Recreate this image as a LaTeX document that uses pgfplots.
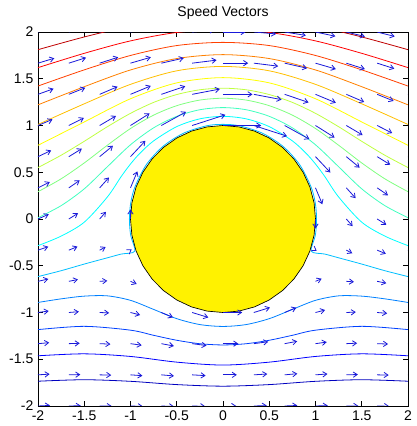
\documentclass[border=0pt]{standalone}
\usepackage{fontspec}
\setmainfont{Liberation Sans}
\usepackage{pgfplots}
\usepackage{pgfplotstable}
\pgfplotsset{compat=1.18}
\usetikzlibrary{arrows.meta,calc}

% jet colours, one per contour level
\definecolor{j1}{rgb}{0,0,0.75}
\definecolor{j2}{rgb}{0,0,1}
\definecolor{j3}{rgb}{0,0.25,1}
\definecolor{j4}{rgb}{0,0.5,1}
\definecolor{j5}{rgb}{0,0.75,1}
\definecolor{j6}{rgb}{0,1,1}
\definecolor{j7}{rgb}{0.25,1,0.75}
\definecolor{j8}{rgb}{0.5,1,0.5}
\definecolor{j9}{rgb}{0.75,1,0.25}
\definecolor{j10}{rgb}{1,1,0}
\definecolor{j11}{rgb}{1,0.75,0}
\definecolor{j12}{rgb}{1,0.5,0}
\definecolor{j13}{rgb}{1,0.25,0}
\definecolor{j14}{rgb}{1,0,0}
\definecolor{j15}{rgb}{0.75,0,0}
\definecolor{arrowblue}{rgb}{0.1,0.1,0.85}

\pgfplotstableread{
x y u v
-2 2 1.165 0.29
-2 1.6667 1.1357 0.3399
-2 1.3333 1.0857 0.3883
-2 1 1.012 0.424
-2 0.6667 0.919 0.432
-2 0.3333 0.8234 0.4
-2 0 0.75 0.33
-2 -0.3333 0.7164 0.2422
-2 -0.6667 0.721 0.162
-2 -1 0.748 0.104
-2 -1.3333 0.7811 0.0687
-2 -1.6667 0.8111 0.0497
-2 -2 0.835 0.04
-1.6667 2 1.2214 0.3074
-1.6667 1.6667 1.198 0.378
-1.6667 1.3333 1.145 0.4557
-1.6667 1 1.0501 0.5248
-1.6667 0.6667 0.9119 0.5554
-1.6667 0.3333 0.7567 0.5139
-1.6667 0 0.64 0.396
-1.6667 -0.3333 0.6043 0.2477
-1.6667 -0.6667 0.6387 0.1274
-1.6667 -1 0.7007 0.0576
-1.6667 -1.3333 0.7586 0.0273
-1.6667 -1.6667 0.802 0.018
-1.6667 -2 0.8318 0.0172
-1.3333 2 1.2951 0.3121
-1.3333 1.6667 1.2897 0.4074
-1.3333 1.3333 1.2475 0.5288
-1.3333 1 1.1368 0.6624
-1.3333 0.6667 0.928 0.756
-1.3333 0.3333 0.6494 0.715
-1.3333 0 0.4375 0.495
-1.3333 -0.3333 0.4164 0.2168
-1.3333 -0.6667 0.532 0.036
-1.3333 -1 0.6616 -0.0288
-1.3333 -1.3333 0.7525 -0.0338
-1.3333 -1.6667 0.8067 -0.021
-1.3333 -2 0.8381 -0.0075
-1 2 1.384 0.292
-1 1.6667 1.4158 0.4083
-1 1.3333 1.4176 0.5832
-1 1 1.33 0.83
-1 0.6667 1.0383 1.096
-1 0.3333 0.478 1.134
-1 0 0 0.66
-1 -0.3333 0.082 0.054
-1 -0.6667 0.4291 -0.1822
-1 -1 0.67 -0.17
-1 -1.3333 0.784 -0.108
-1 -1.6667 0.8334 -0.0589
-1 -2 0.856 -0.028
-0.6667 2 1.477 0.234
-0.6667 1.6667 1.5661 0.3506
-0.6667 1.3333 1.666 0.558
-0.6667 1 1.7232 0.9437
-0.6667 -1 0.8094 -0.3345
-0.6667 -1.3333 0.874 -0.162
-0.6667 -1.6667 0.8833 -0.0774
-0.6667 -2 0.883 -0.036
-0.3333 2 1.5512 0.1324
-0.3333 1.6667 1.7003 0.2093
-0.3333 1.3333 1.933 0.3656
-0.3333 1 2.314 0.738
-0.3333 -1 1.126 -0.342
-0.3333 -1.3333 1.0012 -0.1326
-0.3333 -1.6667 0.9387 -0.0569
-0.3333 -2 0.909 -0.0254
0 2 1.58 0
0 1.6667 1.756 0
0 1.3333 2.0575 0
0 1 2.66 0
0 -1 1.34 0
0 -1.3333 1.0675 0
0 -1.6667 0.964 0
0 -2 0.92 0
0.3333 2 1.5512 -0.1324
0.3333 1.6667 1.7003 -0.2093
0.3333 1.3333 1.933 -0.3656
0.3333 1 2.314 -0.738
0.3333 -1 1.126 0.342
0.3333 -1.3333 1.0012 0.1326
0.3333 -1.6667 0.9387 0.0569
0.3333 -2 0.909 0.0254
0.6667 2 1.477 -0.234
0.6667 1.6667 1.5661 -0.3506
0.6667 1.3333 1.666 -0.558
0.6667 1 1.7232 -0.9437
0.6667 -1 0.8094 0.3345
0.6667 -1.3333 0.874 0.162
0.6667 -1.6667 0.8833 0.0774
0.6667 -2 0.883 0.036
1 2 1.384 -0.292
1 1.6667 1.4158 -0.4083
1 1.3333 1.4176 -0.5832
1 1 1.33 -0.83
1 0.6667 1.0383 -1.096
1 0.3333 0.478 -1.134
1 0 0 -0.66
1 -0.3333 0.082 -0.054
1 -0.6667 0.4291 0.1822
1 -1 0.67 0.17
1 -1.3333 0.784 0.108
1 -1.6667 0.8334 0.0589
1 -2 0.856 0.028
1.3333 2 1.2951 -0.3121
1.3333 1.6667 1.2897 -0.4074
1.3333 1.3333 1.2475 -0.5288
1.3333 1 1.1368 -0.6624
1.3333 0.6667 0.928 -0.756
1.3333 0.3333 0.6494 -0.715
1.3333 0 0.4375 -0.495
1.3333 -0.3333 0.4164 -0.2168
1.3333 -0.6667 0.532 -0.036
1.3333 -1 0.6616 0.0288
1.3333 -1.3333 0.7525 0.0338
1.3333 -1.6667 0.8067 0.021
1.3333 -2 0.8381 0.0075
1.6667 2 1.2214 -0.3074
1.6667 1.6667 1.198 -0.378
1.6667 1.3333 1.145 -0.4557
1.6667 1 1.0501 -0.5248
1.6667 0.6667 0.9119 -0.5554
1.6667 0.3333 0.7567 -0.5139
1.6667 0 0.64 -0.396
1.6667 -0.3333 0.6043 -0.2477
1.6667 -0.6667 0.6387 -0.1274
1.6667 -1 0.7007 -0.0576
1.6667 -1.3333 0.7586 -0.0273
1.6667 -1.6667 0.802 -0.018
1.6667 -2 0.8318 -0.0172
2 2 1.165 -0.29
2 1.6667 1.1357 -0.3399
2 1.3333 1.0857 -0.3883
2 1 1.012 -0.424
2 0.6667 0.919 -0.432
2 0.3333 0.8234 -0.4
2 0 0.75 -0.33
2 -0.3333 0.7164 -0.2422
2 -0.6667 0.721 -0.162
2 -1 0.748 -0.104
2 -1.3333 0.7811 -0.0687
2 -1.6667 0.8111 -0.0497
2 -2 0.835 -0.04
}\speeds

\begin{document}
\begin{tikzpicture}
\begin{axis}[name=a, scale only axis, width=277.5pt, height=280.5pt,
  xmin=-2, xmax=2, ymin=-2, ymax=2,
  xtick={-2,-1.5,-1,-0.5,0,0.5,1,1.5,2},
  ytick={-2,-1.5,-1,-0.5,0,0.5,1,1.5,2},
  /pgf/number format/assume math mode=true,
  tick label style={font=\fontsize{10.5}{12}\selectfont},
  title={Speed Vectors}, title style={font=\fontsize{10.5}{12}\selectfont},
  major tick length=3.5pt, tick style={black, line width=0.5pt},
  axis line style={line width=0.6pt},
  every axis plot/.append style={line width=0.6pt}]
% streamlines
\addplot[j1, smooth] coordinates {(-2,-1.735) (-1.5,-1.719) (-1,-1.736)
  (-0.5,-1.771) (0,-1.788) (0.5,-1.771) (1,-1.736) (1.5,-1.719) (2,-1.735)};
\addplot[j2, smooth] coordinates {(-2,-1.463) (-1.5,-1.442) (-1,-1.470)
  (-0.5,-1.531) (0,-1.562) (0.5,-1.531) (1,-1.470) (1.5,-1.442) (2,-1.463)};
\addplot[j3, smooth] coordinates {(-2,-1.183) (-1.5,-1.148) (-1,-1.189)
  (-0.75,-1.244) (-0.5,-1.297) (-0.25,-1.334) (0,-1.347) (0.25,-1.334)
  (0.5,-1.297) (0.75,-1.244) (1,-1.189) (1.5,-1.148) (2,-1.183)};
\addplot[j4, smooth] coordinates {(-2,-0.8925) (-1.75,-0.854) (-1.5,-0.825)
  (-1.25,-0.822) (-1,-0.870) (-0.75,-0.967) (-0.5,-1.066) (-0.25,-1.129)
  (0,-1.149) (0.25,-1.129) (0.5,-1.066) (0.75,-0.967) (1,-0.870)
  (1.25,-0.822) (1.5,-0.825) (1.75,-0.854) (2,-0.8925)};
\addplot[j5, smooth] coordinates {(-2,-0.616) (-1.75,-0.553) (-1.5,-0.482)
  (-1.25,-0.415) (-1.1,-0.375) (-0.955,-0.345) (-0.998,-0.176) (-1.012,0)
  (-0.997,0.176) (-0.951,0.346) (-0.829,0.581) (-0.651,0.775)
  (-0.428,0.917) (-0.176,0.997) (0,1.012) (0.176,0.997) (0.428,0.917)
  (0.651,0.775) (0.829,0.581) (0.951,0.346) (0.997,0.176) (1.012,0)
  (0.998,-0.176) (0.955,-0.345) (1.1,-0.375) (1.25,-0.415) (1.5,-0.482)
  (1.75,-0.553) (2,-0.616)};
\addplot[j6, smooth] coordinates {(-2,-0.285) (-1.75,-0.183) (-1.5,-0.034)
  (-1.25,0.2355) (-1.1,0.455) (-1,0.588) (-0.9,0.701) (-0.75,0.8355)
  (-0.5,0.988) (-0.25,1.0713) (0,1.098) (0.25,1.0713) (0.5,0.988)
  (0.75,0.8355) (0.9,0.701) (1,0.588) (1.1,0.455) (1.25,0.2355)
  (1.5,-0.034) (1.75,-0.183) (2,-0.285)};
\addplot[j7, smooth] coordinates {(-2,0.014) (-1.75,0.1428) (-1.5,0.3225)
  (-1.25,0.559) (-1,0.7937) (-0.75,0.975) (-0.5,1.098) (-0.25,1.1687)
  (0,1.1915) (0.25,1.1687) (0.5,1.098) (0.75,0.975) (1,0.7937)
  (1.25,0.559) (1.5,0.3225) (1.75,0.1428) (2,0.014)};
\addplot[j8, smooth] coordinates {(-2,0.292) (-1.75,0.4296) (-1.5,0.5995)
  (-1.25,0.789) (-1,0.9676) (-0.75,1.111) (-0.5,1.212) (-0.25,1.272)
  (0,1.2915) (0.25,1.272) (0.5,1.212) (0.75,1.111) (1,0.9676)
  (1.25,0.789) (1.5,0.5995) (1.75,0.4296) (2,0.292)};
\addplot[j9, smooth] coordinates {(-2,0.550) (-1.75,0.682) (-1.5,0.831)
  (-1.25,0.987) (-1,1.13) (-0.75,1.247) (-0.5,1.331) (-0.25,1.382)
  (0,1.399) (0.25,1.382) (0.5,1.331) (0.75,1.247) (1,1.13) (1.25,0.987)
  (1.5,0.831) (1.75,0.682) (2,0.550)};
\addplot[j10, smooth] coordinates {(-2,0.788) (-1.5,1.038) (-1,1.286)
  (-0.5,1.456) (0,1.512) (0.5,1.456) (1,1.286) (1.5,1.038) (2,0.788)};
\addplot[j11, smooth] coordinates {(-2,1.011) (-1.5,1.232) (-1,1.440)
  (-0.5,1.585) (0,1.632) (0.5,1.585) (1,1.440) (1.5,1.232) (2,1.011)};
\addplot[j12, smooth] coordinates {(-2,1.221) (-1.5,1.415) (-1,1.594)
  (-0.5,1.716) (0,1.758) (0.5,1.716) (1,1.594) (1.5,1.415) (2,1.221)};
\addplot[j13, smooth] coordinates {(-2,1.422) (-1.5,1.595) (-1,1.749)
  (-0.5,1.855) (0,1.889) (0.5,1.855) (1,1.749) (1.5,1.595) (2,1.422)};
\addplot[j14, smooth] coordinates {(-2,1.619) (-1.5,1.772) (-1,1.905)
  (-0.5,1.995) (0,2.026) (0.5,1.995) (1,1.905) (1.5,1.772) (2,1.619)};
\addplot[j15, smooth] coordinates {(-2,1.811) (-1.5,1.947) (-1,2.063)
  (-0.5,2.14) (0,2.168) (0.5,2.14) (1,2.063) (1.5,1.947) (2,1.811)};
% cylinder
\addplot[draw=black, fill=yellow, line width=0.5pt] coordinates {(1,0)
  (0.9848,0.1736) (0.9397,0.3420) (0.8660,0.5) (0.7660,0.6428)
  (0.6428,0.7660) (0.5,0.8660) (0.3420,0.9397) (0.1736,0.9848) (0,1)
  (-0.1736,0.9848) (-0.3420,0.9397) (-0.5,0.8660) (-0.6428,0.7660)
  (-0.7660,0.6428) (-0.8660,0.5) (-0.9397,0.3420) (-0.9848,0.1736) (-1,0)
  (-0.9848,-0.1736) (-0.9397,-0.3420) (-0.8660,-0.5) (-0.7660,-0.6428)
  (-0.6428,-0.7660) (-0.5,-0.8660) (-0.3420,-0.9397) (-0.1736,-0.9848)
  (0,-1) (0.1736,-0.9848) (0.3420,-0.9397) (0.5,-0.8660) (0.6428,-0.7660)
  (0.7660,-0.6428) (0.8660,-0.5) (0.9397,-0.3420) (0.9848,-0.1736)} -- cycle;
% speed vectors
\addplot[arrowblue, line width=0.6pt,
  quiver={u=\thisrow{u}, v=\thisrow{v}, scale arrows=0.155},
  -{Straight Barb[length=3pt,width=4pt]}] table[x=x, y=y] {\speeds};
\end{axis}
\pgfresetboundingbox
\path ($(a.south west)+(-28.5pt,-15pt)$) rectangle ($(a.north east)+(6.75pt,24pt)$);
\end{tikzpicture}
\end{document}
